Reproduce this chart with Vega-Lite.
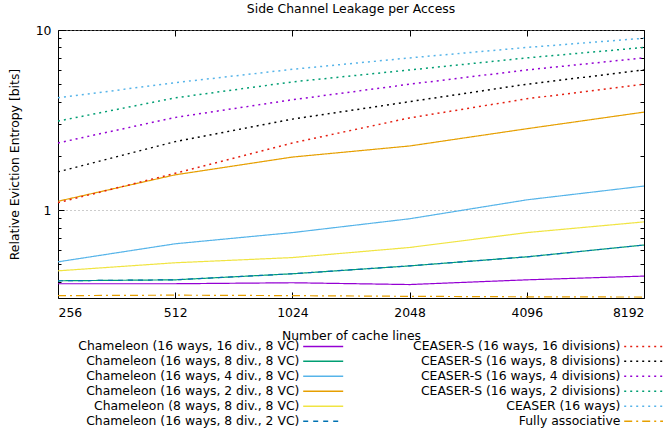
{
  "$schema": "https://vega.github.io/schema/vega-lite/v6.json",
  "width": 586,
  "height": 268,
  "autosize": {"type": "none"},
  "padding": {"left": 58, "top": 30, "right": 19, "bottom": 136},
  "title": {"text": "Side Channel Leakage per Access", "fontSize": 12.4, "fontWeight": "normal", "font": "DejaVu Sans", "color": "#000", "offset": 9},
  "config": {
    "font": "DejaVu Sans",
    "view": {"stroke": "#000", "strokeWidth": 1},
    "axis": {"domain": false, "tickColor": "#000", "tickWidth": 1, "labelFont": "DejaVu Sans", "labelFontSize": 12.4, "labelColor": "#000", "titleFont": "DejaVu Sans", "titleFontSize": 12.4, "titleFontWeight": "normal", "titleColor": "#000", "grid": false},
    "legend": {"orient": "none", "legendX": 259, "legendY": 310, "columns": 2, "symbolType": "M-5,0H5", "symbolSize": 64, "symbolStrokeWidth": 1.5, "symbolFillColor": "transparent", "labelFont": "DejaVu Sans", "labelFontSize": 12.4, "labelColor": "#000", "labelAlign": "right", "labelOffset": -30, "rowPadding": 2, "columnPadding": 66, "title": null, "padding": 0, "symbolLimit": 0, "labelLimit": 400}
  },
  "data": {"values": [
    {"family": "Chameleon", "series": "Chameleon (16 ways, 16 div., 8 VC)", "lines": 256, "entropy": 0.39},
    {"family": "Chameleon", "series": "Chameleon (16 ways, 16 div., 8 VC)", "lines": 512, "entropy": 0.39},
    {"family": "Chameleon", "series": "Chameleon (16 ways, 16 div., 8 VC)", "lines": 1024, "entropy": 0.395},
    {"family": "Chameleon", "series": "Chameleon (16 ways, 16 div., 8 VC)", "lines": 2048, "entropy": 0.386},
    {"family": "Chameleon", "series": "Chameleon (16 ways, 16 div., 8 VC)", "lines": 4096, "entropy": 0.41},
    {"family": "Chameleon", "series": "Chameleon (16 ways, 16 div., 8 VC)", "lines": 8192, "entropy": 0.43},
    {"family": "Chameleon", "series": "Chameleon (16 ways, 8 div., 8 VC)", "lines": 256, "entropy": 0.405},
    {"family": "Chameleon", "series": "Chameleon (16 ways, 8 div., 8 VC)", "lines": 512, "entropy": 0.41},
    {"family": "Chameleon", "series": "Chameleon (16 ways, 8 div., 8 VC)", "lines": 1024, "entropy": 0.443},
    {"family": "Chameleon", "series": "Chameleon (16 ways, 8 div., 8 VC)", "lines": 2048, "entropy": 0.49},
    {"family": "Chameleon", "series": "Chameleon (16 ways, 8 div., 8 VC)", "lines": 4096, "entropy": 0.55},
    {"family": "Chameleon", "series": "Chameleon (16 ways, 8 div., 8 VC)", "lines": 8192, "entropy": 0.64},
    {"family": "Chameleon", "series": "Chameleon (16 ways, 4 div., 8 VC)", "lines": 256, "entropy": 0.516},
    {"family": "Chameleon", "series": "Chameleon (16 ways, 4 div., 8 VC)", "lines": 512, "entropy": 0.65},
    {"family": "Chameleon", "series": "Chameleon (16 ways, 4 div., 8 VC)", "lines": 1024, "entropy": 0.75},
    {"family": "Chameleon", "series": "Chameleon (16 ways, 4 div., 8 VC)", "lines": 2048, "entropy": 0.895},
    {"family": "Chameleon", "series": "Chameleon (16 ways, 4 div., 8 VC)", "lines": 4096, "entropy": 1.14},
    {"family": "Chameleon", "series": "Chameleon (16 ways, 4 div., 8 VC)", "lines": 8192, "entropy": 1.36},
    {"family": "Chameleon", "series": "Chameleon (16 ways, 2 div., 8 VC)", "lines": 256, "entropy": 1.12},
    {"family": "Chameleon", "series": "Chameleon (16 ways, 2 div., 8 VC)", "lines": 512, "entropy": 1.57},
    {"family": "Chameleon", "series": "Chameleon (16 ways, 2 div., 8 VC)", "lines": 1024, "entropy": 1.97},
    {"family": "Chameleon", "series": "Chameleon (16 ways, 2 div., 8 VC)", "lines": 2048, "entropy": 2.27},
    {"family": "Chameleon", "series": "Chameleon (16 ways, 2 div., 8 VC)", "lines": 4096, "entropy": 2.83},
    {"family": "Chameleon", "series": "Chameleon (16 ways, 2 div., 8 VC)", "lines": 8192, "entropy": 3.5},
    {"family": "Chameleon", "series": "Chameleon (8 ways, 8 div., 8 VC)", "lines": 256, "entropy": 0.46},
    {"family": "Chameleon", "series": "Chameleon (8 ways, 8 div., 8 VC)", "lines": 512, "entropy": 0.51},
    {"family": "Chameleon", "series": "Chameleon (8 ways, 8 div., 8 VC)", "lines": 1024, "entropy": 0.545},
    {"family": "Chameleon", "series": "Chameleon (8 ways, 8 div., 8 VC)", "lines": 2048, "entropy": 0.62},
    {"family": "Chameleon", "series": "Chameleon (8 ways, 8 div., 8 VC)", "lines": 4096, "entropy": 0.75},
    {"family": "Chameleon", "series": "Chameleon (8 ways, 8 div., 8 VC)", "lines": 8192, "entropy": 0.86},
    {"family": "Chameleon", "series": "Chameleon (16 ways, 8 div., 2 VC)", "lines": 256, "entropy": 0.405},
    {"family": "Chameleon", "series": "Chameleon (16 ways, 8 div., 2 VC)", "lines": 512, "entropy": 0.41},
    {"family": "Chameleon", "series": "Chameleon (16 ways, 8 div., 2 VC)", "lines": 1024, "entropy": 0.443},
    {"family": "Chameleon", "series": "Chameleon (16 ways, 8 div., 2 VC)", "lines": 2048, "entropy": 0.49},
    {"family": "Chameleon", "series": "Chameleon (16 ways, 8 div., 2 VC)", "lines": 4096, "entropy": 0.55},
    {"family": "Chameleon", "series": "Chameleon (16 ways, 8 div., 2 VC)", "lines": 8192, "entropy": 0.64},
    {"family": "CEASER", "series": "CEASER-S (16 ways, 16 divisions)", "lines": 256, "entropy": 1.1},
    {"family": "CEASER", "series": "CEASER-S (16 ways, 16 divisions)", "lines": 512, "entropy": 1.6},
    {"family": "CEASER", "series": "CEASER-S (16 ways, 16 divisions)", "lines": 1024, "entropy": 2.36},
    {"family": "CEASER", "series": "CEASER-S (16 ways, 16 divisions)", "lines": 2048, "entropy": 3.25},
    {"family": "CEASER", "series": "CEASER-S (16 ways, 16 divisions)", "lines": 4096, "entropy": 4.15},
    {"family": "CEASER", "series": "CEASER-S (16 ways, 16 divisions)", "lines": 8192, "entropy": 5.0},
    {"family": "CEASER", "series": "CEASER-S (16 ways, 8 divisions)", "lines": 256, "entropy": 1.63},
    {"family": "CEASER", "series": "CEASER-S (16 ways, 8 divisions)", "lines": 512, "entropy": 2.4},
    {"family": "CEASER", "series": "CEASER-S (16 ways, 8 divisions)", "lines": 1024, "entropy": 3.2},
    {"family": "CEASER", "series": "CEASER-S (16 ways, 8 divisions)", "lines": 2048, "entropy": 4.0},
    {"family": "CEASER", "series": "CEASER-S (16 ways, 8 divisions)", "lines": 4096, "entropy": 5.0},
    {"family": "CEASER", "series": "CEASER-S (16 ways, 8 divisions)", "lines": 8192, "entropy": 6.0},
    {"family": "CEASER", "series": "CEASER-S (16 ways, 4 divisions)", "lines": 256, "entropy": 2.36},
    {"family": "CEASER", "series": "CEASER-S (16 ways, 4 divisions)", "lines": 512, "entropy": 3.27},
    {"family": "CEASER", "series": "CEASER-S (16 ways, 4 divisions)", "lines": 1024, "entropy": 4.1},
    {"family": "CEASER", "series": "CEASER-S (16 ways, 4 divisions)", "lines": 2048, "entropy": 5.0},
    {"family": "CEASER", "series": "CEASER-S (16 ways, 4 divisions)", "lines": 4096, "entropy": 6.0},
    {"family": "CEASER", "series": "CEASER-S (16 ways, 4 divisions)", "lines": 8192, "entropy": 7.0},
    {"family": "CEASER", "series": "CEASER-S (16 ways, 2 divisions)", "lines": 256, "entropy": 3.12},
    {"family": "CEASER", "series": "CEASER-S (16 ways, 2 divisions)", "lines": 512, "entropy": 4.2},
    {"family": "CEASER", "series": "CEASER-S (16 ways, 2 divisions)", "lines": 1024, "entropy": 5.15},
    {"family": "CEASER", "series": "CEASER-S (16 ways, 2 divisions)", "lines": 2048, "entropy": 6.0},
    {"family": "CEASER", "series": "CEASER-S (16 ways, 2 divisions)", "lines": 4096, "entropy": 7.0},
    {"family": "CEASER", "series": "CEASER-S (16 ways, 2 divisions)", "lines": 8192, "entropy": 8.0},
    {"family": "CEASER", "series": "CEASER (16 ways)", "lines": 256, "entropy": 4.2},
    {"family": "CEASER", "series": "CEASER (16 ways)", "lines": 512, "entropy": 5.1},
    {"family": "CEASER", "series": "CEASER (16 ways)", "lines": 1024, "entropy": 6.05},
    {"family": "CEASER", "series": "CEASER (16 ways)", "lines": 2048, "entropy": 7.0},
    {"family": "CEASER", "series": "CEASER (16 ways)", "lines": 4096, "entropy": 8.0},
    {"family": "CEASER", "series": "CEASER (16 ways)", "lines": 8192, "entropy": 9.0},
    {"family": "Fully", "series": "Fully associative", "lines": 256, "entropy": 0.335},
    {"family": "Fully", "series": "Fully associative", "lines": 512, "entropy": 0.337},
    {"family": "Fully", "series": "Fully associative", "lines": 1024, "entropy": 0.335},
    {"family": "Fully", "series": "Fully associative", "lines": 2048, "entropy": 0.332},
    {"family": "Fully", "series": "Fully associative", "lines": 4096, "entropy": 0.33},
    {"family": "Fully", "series": "Fully associative", "lines": 8192, "entropy": 0.329}
  ]},
  "encoding": {
    "color": {"field": "series", "type": "nominal",
      "scale": {"domain": ["Chameleon (16 ways, 16 div., 8 VC)", "Chameleon (16 ways, 8 div., 8 VC)", "Chameleon (16 ways, 4 div., 8 VC)", "Chameleon (16 ways, 2 div., 8 VC)", "Chameleon (8 ways, 8 div., 8 VC)", "Chameleon (16 ways, 8 div., 2 VC)", "CEASER-S (16 ways, 16 divisions)", "CEASER-S (16 ways, 8 divisions)", "CEASER-S (16 ways, 4 divisions)", "CEASER-S (16 ways, 2 divisions)", "CEASER (16 ways)", "Fully associative"],
        "range": ["#9400d3", "#009e73", "#56b4e9", "#e69f00", "#f0e442", "#0072b2", "#e51e10", "#000000", "#9400d3", "#009e73", "#56b4e9", "#e69f00"]}},
    "strokeDash": {"field": "series", "type": "nominal",
      "scale": {"domain": ["Chameleon (16 ways, 16 div., 8 VC)", "Chameleon (16 ways, 8 div., 8 VC)", "Chameleon (16 ways, 4 div., 8 VC)", "Chameleon (16 ways, 2 div., 8 VC)", "Chameleon (8 ways, 8 div., 8 VC)", "Chameleon (16 ways, 8 div., 2 VC)", "CEASER-S (16 ways, 16 divisions)", "CEASER-S (16 ways, 8 divisions)", "CEASER-S (16 ways, 4 divisions)", "CEASER-S (16 ways, 2 divisions)", "CEASER (16 ways)", "Fully associative"],
        "range": [[1, 0], [1, 0], [1, 0], [1, 0], [1, 0], [5, 5], [2, 4], [2, 4], [2, 4], [2, 4], [2, 4], [8, 4, 2, 4]]}}
  },
  "layer": [
    {
      "transform": [{"filter": "datum.family === 'Chameleon'"}],
      "mark": {"type": "line", "strokeWidth": 1.2},
      "encoding": {
        "x": {"field": "lines", "type": "quantitative", "scale": {"type": "log", "base": 2, "domain": [256, 8192], "nice": false},
          "axis": {"orient": "bottom", "values": [256, 512, 1024, 2048, 4096, 8192], "format": "d", "title": "Number of cache lines", "tickSize": -6, "labelPadding": 14, "titlePadding": 11}},
        "y": {"field": "entropy", "type": "quantitative", "scale": {"type": "log", "domain": [0.325, 10], "nice": false},
          "axis": {"orient": "left", "values": [1, 10], "format": "~g", "title": "Relative Eviction Entropy [bits]", "tickSize": -6, "labelPadding": 13, "titlePadding": 14, "grid": true, "gridDash": [1, 3], "gridColor": "#999"}}
      }
    },
    {
      "transform": [{"filter": "datum.family === 'CEASER'"}],
      "mark": {"type": "line", "strokeWidth": 1.5},
      "encoding": {
        "x": {"field": "lines", "type": "quantitative",
          "axis": {"orient": "top", "values": [256, 512, 1024, 2048, 4096, 8192], "labels": false, "title": null, "tickSize": -6}},
        "y": {"field": "entropy", "type": "quantitative",
          "axis": {"orient": "right", "values": [0.4, 0.5, 0.6, 0.7, 0.8, 0.9, 1, 2, 3, 4, 5, 6, 7, 8, 9, 10], "labels": false, "title": null, "tickSize": -4}}
      }
    },
    {
      "transform": [{"filter": "datum.family === 'Fully'"}],
      "mark": {"type": "line", "strokeWidth": 1.2},
      "encoding": {
        "x": {"field": "lines", "type": "quantitative", "axis": null},
        "y": {"field": "entropy", "type": "quantitative",
          "axis": {"orient": "left", "values": [0.4, 0.5, 0.6, 0.7, 0.8, 0.9, 2, 3, 4, 5, 6, 7, 8, 9], "labels": false, "title": null, "tickSize": -3}}
      }
    }
  ],
  "resolve": {"axis": {"x": "independent", "y": "independent"}}
}
